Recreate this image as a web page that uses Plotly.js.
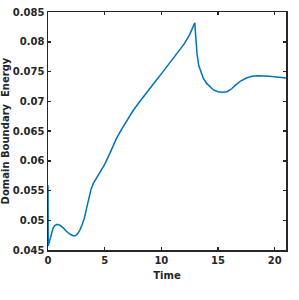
<!DOCTYPE html>
<html>
<head>
<meta charset="utf-8">
<script src="https://cdn.plot.ly/plotly-3.0.1.min.js"></script>
<style>html,body{margin:0;padding:0;background:#fff;}</style>
</head>
<body>
<div id="chart" style="width:299px;height:300px;"></div>
<script>
var time = [0, 0.02, 0.15, 0.3, 0.45, 0.6, 0.8, 1.0, 1.3, 1.6, 1.9, 2.2, 2.4, 2.6, 2.8, 3.0, 3.2, 3.4, 3.6, 3.8, 4.0, 4.4, 4.8, 5.0, 5.5, 6.0, 6.5, 7.0, 7.5, 8.0, 8.5, 9.0, 9.5, 10.0, 10.5, 11.0, 11.5, 12.0, 12.5, 12.95, 13.05, 13.15, 13.3, 13.5, 13.7, 14.0, 14.3, 14.6, 15.0, 15.4, 15.8, 16.2, 16.6, 17.0, 17.5, 18.0, 18.5, 19.0, 19.5, 20.0, 20.5, 21.0];
var energy = [0.0559, 0.0457, 0.0466, 0.0478, 0.0487, 0.0491, 0.0493, 0.0492, 0.0488, 0.0482, 0.0477, 0.0474, 0.0474, 0.0477, 0.0483, 0.0492, 0.0503, 0.0520, 0.0537, 0.0552, 0.0562, 0.0575, 0.0586, 0.0594, 0.0614, 0.0636, 0.0653, 0.0669, 0.0684, 0.0697, 0.0710, 0.0722, 0.0734, 0.0746, 0.0758, 0.0771, 0.0783, 0.0796, 0.0812, 0.0832, 0.0805, 0.0780, 0.0760, 0.0748, 0.0739, 0.0730, 0.0724, 0.0719, 0.0716, 0.0715, 0.0716, 0.0721, 0.0728, 0.0734, 0.0739, 0.0742, 0.0743, 0.0743, 0.0742, 0.0741, 0.0740, 0.0739];
var xTicks = [0, 5, 10, 15, 20];
var yTicks = [0.045, 0.05, 0.055, 0.06, 0.065, 0.07, 0.075, 0.08, 0.085];

var axisFont = {family: 'DejaVu Sans', size: 10, color: '#262626', weight: 'bold'};
var trace = {
  x: time, y: energy, type: 'scatter', mode: 'lines',
  line: {color: '#0072BD', width: 1.5}, hoverinfo: 'none'
};
var layout = {
  width: 299, height: 300,
  margin: {l: 48, r: 13, t: 12, b: 50},
  paper_bgcolor: '#fff', plot_bgcolor: '#fff',
  showlegend: false,
  xaxis: {
    range: [0, 21], tickvals: xTicks, ticktext: xTicks.map(String),
    showgrid: false, zeroline: false, showline: true, mirror: 'ticks',
    linecolor: '#262626', linewidth: 1.5, ticks: 'inside', ticklen: 3, tickwidth: 1.5, tickcolor: '#262626',
    tickfont: axisFont,
    title: {text: 'Time', font: {family: 'DejaVu Sans', size: 10, color: '#262626', weight: 'bold'}, standoff: 7}
  },
  yaxis: {
    range: [0.045, 0.085], tickvals: yTicks, ticktext: yTicks.map(String),
    showgrid: false, zeroline: false, showline: true, mirror: 'ticks',
    linecolor: '#262626', linewidth: 1.5, ticks: 'inside', ticklen: 3, tickwidth: 1.5, tickcolor: '#262626',
    tickfont: axisFont,
    title: {text: 'Domain Boundary  Energy', font: {family: 'DejaVu Sans', size: 10, color: '#262626', weight: 'bold'}, standoff: 4}
  }
};
Plotly.newPlot('chart', [trace], layout, {displayModeBar: false, staticPlot: true});
</script>
</body>
</html>
